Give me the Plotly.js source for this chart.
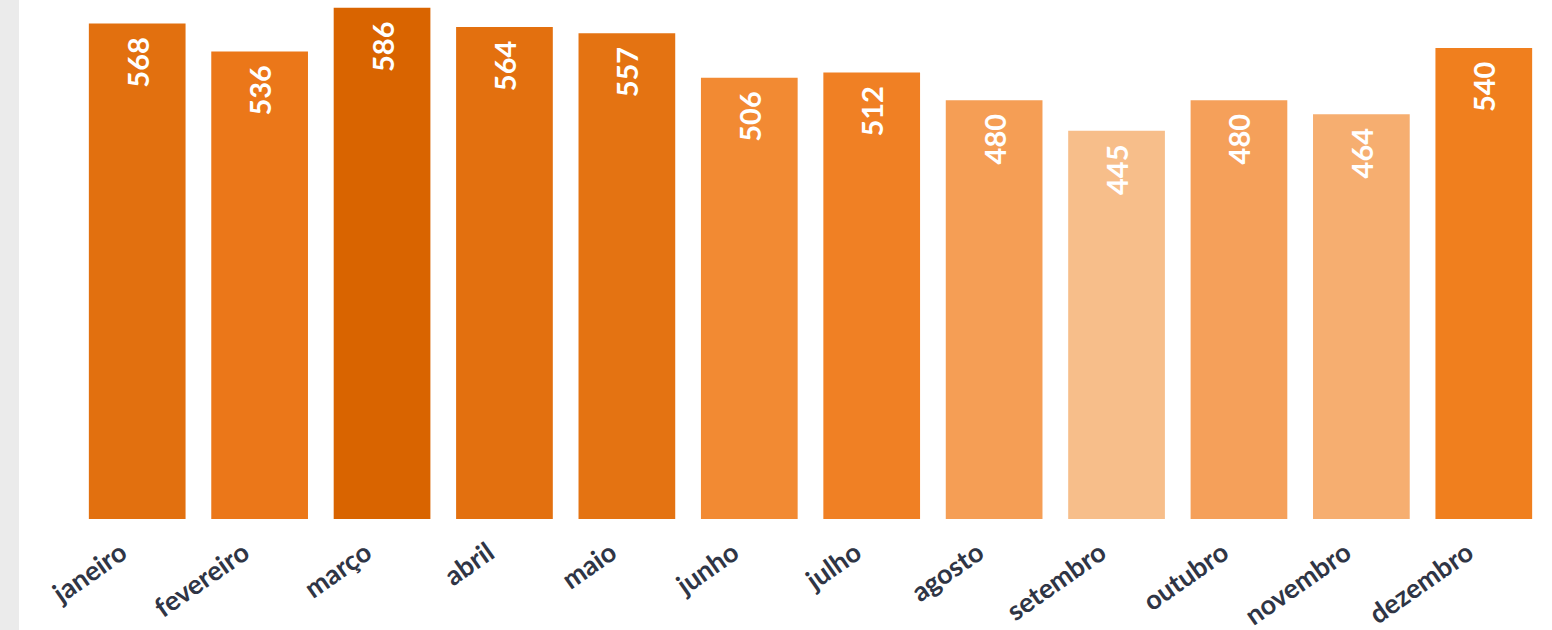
<!DOCTYPE html>
<html><head><meta charset="utf-8">
<script src="https://cdn.plot.ly/plotly-3.0.1.min.js"></script>
<style>html,body{margin:0;padding:0;background:#fff;}#chart{width:1552px;height:630px;}</style>
</head><body><div id="chart"></div>
<script>
var months = ["janeiro","fevereiro","março","abril","maio","junho","julho","agosto","setembro","outubro","novembro","dezembro"];
var values = [568,536,586,564,557,506,512,480,445,480,464,540];
var barColors = ["#e2700f","#eb7719","#d96400","#e3700f","#e47312","#f28a33","#f08024","#f59e55","#f7be8a","#f5a05a","#f6ae70","#f07f1e"];

var trace = {
  type: "bar",
  x: months,
  y: values,
  marker: {color: barColors, line: {width: 0}},
  text: values.map(function (v) { return String(v) + "\u00a0\u2009"; }),
  textposition: "inside",
  insidetextanchor: "end",
  textangle: -90,
  textfont: {family: "Lato, 'Open Sans', sans-serif", size: 29, color: "#ffffff", weight: 700},
  hoverinfo: "none",
  cliponaxis: false
};
var W = 1552, H = 630, ml = 76, mr = 7, mt = 0, mb = 111;
var pw = W - ml - mr, ph = H - mt - mb;
var layout = {
  width: W, height: H,
  margin: {l: ml, r: mr, t: mt, b: mb, pad: 0},
  paper_bgcolor: "#ffffff", plot_bgcolor: "#ffffff",
  bargap: 0.21,
  showlegend: false,
  xaxis: {tickangle: -35, showline: false, showgrid: false, zeroline: false, ticks: "",
    ticklabelstandoff: 12, ticklabelshift: -16,
    tickfont: {family: "Lato, 'Open Sans', sans-serif", size: 27, color: "#2f3545", weight: 700}, fixedrange: true},
  yaxis: {range: [0, 595], visible: false, fixedrange: true},
  shapes: [{type: "rect", xref: "paper", yref: "paper", x0: -ml/pw, x1: (19-ml)/pw, y0: -mb/ph, y1: 1 + mt/ph,
    fillcolor: "#ebebeb", line: {width: 0}, layer: "below"}]
};
Plotly.newPlot("chart", [trace], layout, {displayModeBar: false, staticPlot: true});
</script></body></html>
